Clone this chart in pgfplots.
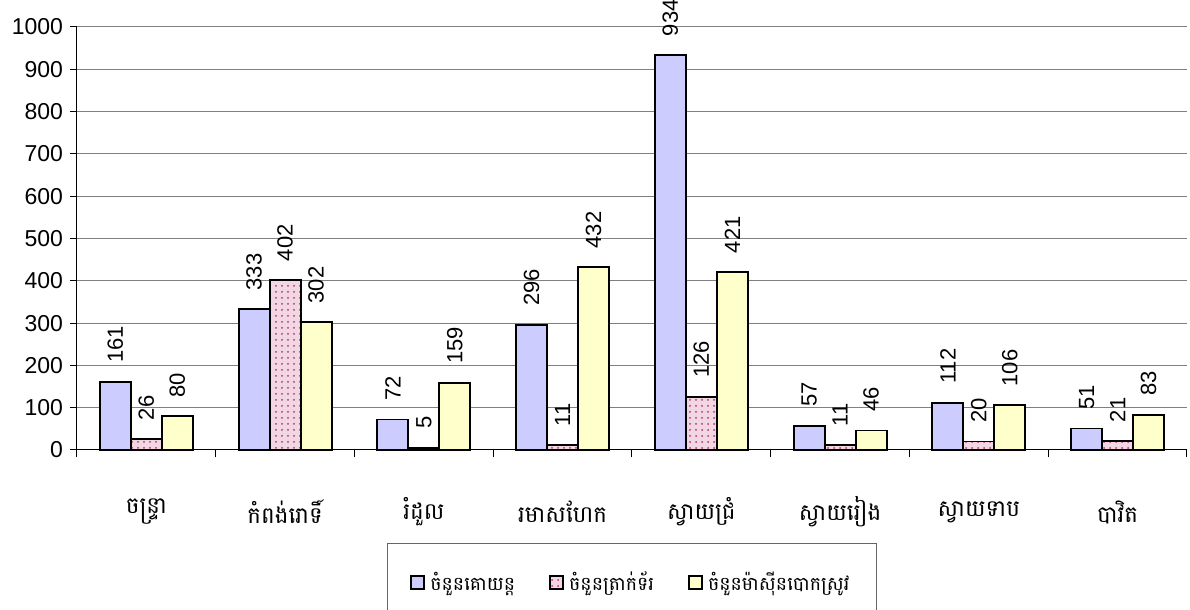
\documentclass[border=0pt]{standalone}
\usepackage{fontspec}
\setmainfont{Liberation Sans}
\newfontfamily\khmer[Script=Khmer]{Battambang}
\usepackage{pgfplots}
\pgfplotsset{compat=1.18}
\usetikzlibrary{patterns}

\definecolor{barblue}{RGB}{204,204,255}
\definecolor{barpink}{RGB}{242,214,226}
\definecolor{dotpink}{RGB}{170,55,110}
\definecolor{baryellow}{RGB}{255,255,204}

\begin{document}
\begin{tikzpicture}
\begin{axis}[
    scale only axis,
    width=555pt, height=211.5pt,
    ybar=0pt, bar width=15.5pt,
    xmin=-0.5, xmax=7.5,
    ymin=0, ymax=1000,
    enlargelimits=false,
    clip=false,
    /pgf/number format/assume math mode=true,
    /pgf/number format/1000 sep={},
    axis lines*=left,
    axis line style={black, line width=0.5pt},
    tick align=outside,
    major tick length=3.5pt,
    tick style={black, line width=0.5pt},
    ytick={0,100,...,1000},
    ymajorgrids=true,
    grid style={black!50, line width=0.5pt},
    xtick={-0.5,0.5,...,7.5},
    xticklabels={},
    extra x ticks={0,1,2,3,4,5,6,7},
    extra x tick labels={ចន្ទ្រា, កំពង់រោទិ៍, រំដួល, រមាសហែក, ស្វាយជ្រំ, ស្វាយរៀង, ស្វាយទាប, បាវិត},
    extra x tick style={major tick length=0pt,
        xticklabel style={font=\khmer\fontsize{11.5}{13}\selectfont, anchor=center, yshift=-31pt}},
    yticklabel style={font=\fontsize{11.5}{13}\selectfont},
    nodes near coords,
    every node near coord/.append style={font=\fontsize{11}{12}\selectfont, rotate=90, anchor=west,
        inner xsep=9pt, inner ysep=0pt, black},
    legend columns=3,
    legend style={at={(0.5,-0.22)}, anchor=north, draw=black!60, line width=0.5pt,
        inner xsep=11.5pt, inner ysep=12pt,
        font=\khmer\fontsize{9.5}{11}\selectfont,
        /tikz/every even column/.append style={column sep=15pt}},
    legend image code/.code={\draw[#1, line width=1pt] (0pt,-3.25pt) rectangle (6.5pt,3.25pt);
        \path (7pt,0pt);},
]
\addplot[fill=barblue, draw=black, line width=0.9pt] coordinates
    {(0,161) (1,333) (2,72) (3,296) (4,934) (5,57) (6,112) (7,51)};
\addplot[fill=barpink, draw=black, line width=0.9pt,
    postaction={pattern=dots, pattern color=dotpink}] coordinates
    {(0,26) (1,402) (2,5) (3,11) (4,126) (5,11) (6,20) (7,21)};
\addplot[fill=baryellow, draw=black, line width=0.9pt] coordinates
    {(0,80) (1,302) (2,159) (3,432) (4,421) (5,46) (6,106) (7,83)};
\legend{ចំនួនគោយន្ត, ចំនួនត្រាក់ទ័រ, ចំនួនម៉ាស៊ីនបោកស្រូវ}
\end{axis}
\pgfresetboundingbox
\useasboundingbox (-38.5pt,-80pt) rectangle (556.5pt,225pt);
\end{tikzpicture}
\end{document}
